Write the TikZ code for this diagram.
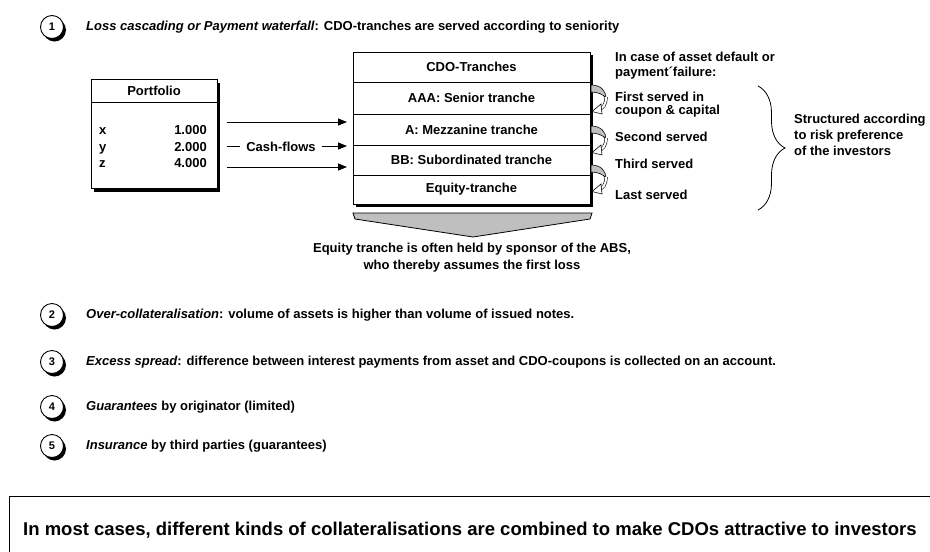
\documentclass[tikz,border=0pt]{standalone}
\usepackage{fontspec}
\setmainfont{Liberation Sans}
\usetikzlibrary{arrows.meta,positioning,calc,backgrounds,shadows,decorations.pathreplacing}

\newcommand{\cdofont}{\fontsize{13}{15}\selectfont\bfseries}

\tikzset{
  tranche/.style={draw, fill=white, line width=0.8pt, minimum width=237, inner sep=0pt, outer sep=0pt, font=\cdofont},
  txt/.style={anchor=west, inner sep=0pt, font=\cdofont, align=left},
  num/.style={circle, draw, fill=white, line width=0.9pt, minimum size=23, inner sep=0pt,
    font=\fontsize{11}{12}\selectfont\bfseries,
    drop shadow={shadow xshift=2.5pt, shadow yshift=-3pt, fill=black, opacity=1}},
  flow/.style={-{Triangle[length=9pt,width=7pt]}, line width=0.8pt, shorten >=6pt},
  turnarrow/.pic={
    \filldraw[fill=gray!50, line width=0.6pt] (0,0) .. controls (10,0) and (15,6) .. (15,13)
      .. controls (12,9) and (6,7) .. (0,7) -- cycle;
    \draw[line width=0.6pt, double=white, double distance=2pt] (15,12) .. controls (15,20) and (12,23) .. (7,25);
    \filldraw[fill=white, line width=0.6pt] (10,19) -- (1,26.5) -- (11,29) -- cycle;
  }
}

\begin{document}
\begin{tikzpicture}[x=1pt, y=-1pt]
\useasboundingbox (0,0) rectangle (930,552);

% first item
\node[num] (n1) at (52,27) {1};
\node[txt] (t1) at (86,27) {\textit{Loss cascading or Payment waterfall}: CDO-tranches are served according to seniority};

% portfolio
\node[draw, fill=white, line width=0.8pt, minimum width=126, minimum height=109,
  drop shadow={shadow xshift=3pt, shadow yshift=-4pt, fill=black, opacity=1}] (port) at (154,133.5) {};
\draw[line width=0.8pt] ($(port.north west)+(0,24)$) -- ($(port.north east)+(0,24)$);
\node[font=\cdofont] (ptitle) at (154,91) {Portfolio};
\foreach \n/\v/\y in {x/1.000/134.5, y/2.000/151.5, z/4.000/167.5}{
  \node[txt, anchor=base west] (k\n) at (99,\y) {\n};
  \node[txt, anchor=base east] (v\n) at (207,\y) {\v};
}

% tranches
\node[tranche, minimum height=30] (hdr) at (471.5,67) {CDO-Tranches};
\node[tranche, minimum height=32, below=0pt of hdr] (aaa) {AAA: Senior tranche};
\node[tranche, minimum height=31, below=0pt of aaa] (mezz) {A: Mezzanine tranche};
\node[tranche, minimum height=30, below=0pt of mezz] (sub) {BB: Subordinated tranche};
\node[tranche, minimum height=29, below=0pt of sub] (eq) {Equity-tranche};
\begin{scope}[on background layer]
  \fill ($(hdr.north west)+(3,3)$) rectangle ($(eq.south east)+(3,3)$);
\end{scope}

% cash-flows
\coordinate (c1) at (227,122);
\coordinate (c2) at (227,146);
\coordinate (c3) at (227,167);
\node[font=\cdofont, inner sep=6pt] (cash) at (281,146.5) {Cash-flows};
\draw[flow] (c1) -- (c1 -| hdr.west);
\draw[line width=0.8pt] (c2) -- (c2 -| cash.west);
\draw[flow] (c2 -| cash.east) -- (c2 -| hdr.west);
\draw[flow] (c3) -- (c3 -| hdr.west);

\foreach \y in {85,126,165}
  \pic at (591,\y) {turnarrow};

\filldraw[fill=gray!50, line width=0.8pt] (353,213) -- (592,213) -- (590,219) -- (473,237) -- (355,219) -- cycle;
\node[font=\fontsize{13}{17}\selectfont\bfseries, align=center] (note) at (472,257.5)
  {Equity tranche is often held by sponsor of the ABS,\\who thereby assumes the first loss};

% serving order
\node[txt] (cond) at (615,65.5) {In case of asset default or\\payment´failure:};
\node[txt, font=\fontsize{13}{12.5}\selectfont\bfseries] (first) at (615,104.5) {First served in\\coupon \& capital};
\node[txt] (second) at (615,137) {Second served};
\node[txt] (third) at (615,164) {Third served};
\node[txt] (last) at (615,195) {Last served};

\draw[line width=0.8pt, decorate, decoration={brace, amplitude=27pt}] (758,86) -- (758,210);
\node[txt, font=\fontsize{13}{16}\selectfont\bfseries] (pref) at (794,135)
  {Structured according\\to risk preference\\of the investors};

% other items
\foreach \i/\y/\say in {
  2/315/{\textit{Over-collateralisation}: volume of assets is higher than volume of issued notes.},
  3/362/{\textit{Excess spread}: difference between interest payments from asset and CDO-coupons is collected on an account.},
  4/407/{\textit{Guarantees} by originator (limited)},
  5/446/{\textit{Insurance} by third parties (guarantees)}}{
  \node[num] (n\i) at (52,\y) {\i};
  \node[txt] (t\i) at (86,\y) {\say};
}

% summary
\node[draw, line width=0.9pt, anchor=north west, minimum width=940, minimum height=70, inner sep=0pt] (sum) at (9,496) {};
\node[txt, font=\fontsize{18.5}{22}\selectfont\bfseries] (sumtxt) at (23,530)
  {In most cases, different kinds of collateralisations are combined to make CDOs attractive to investors};

\end{tikzpicture}
\end{document}
